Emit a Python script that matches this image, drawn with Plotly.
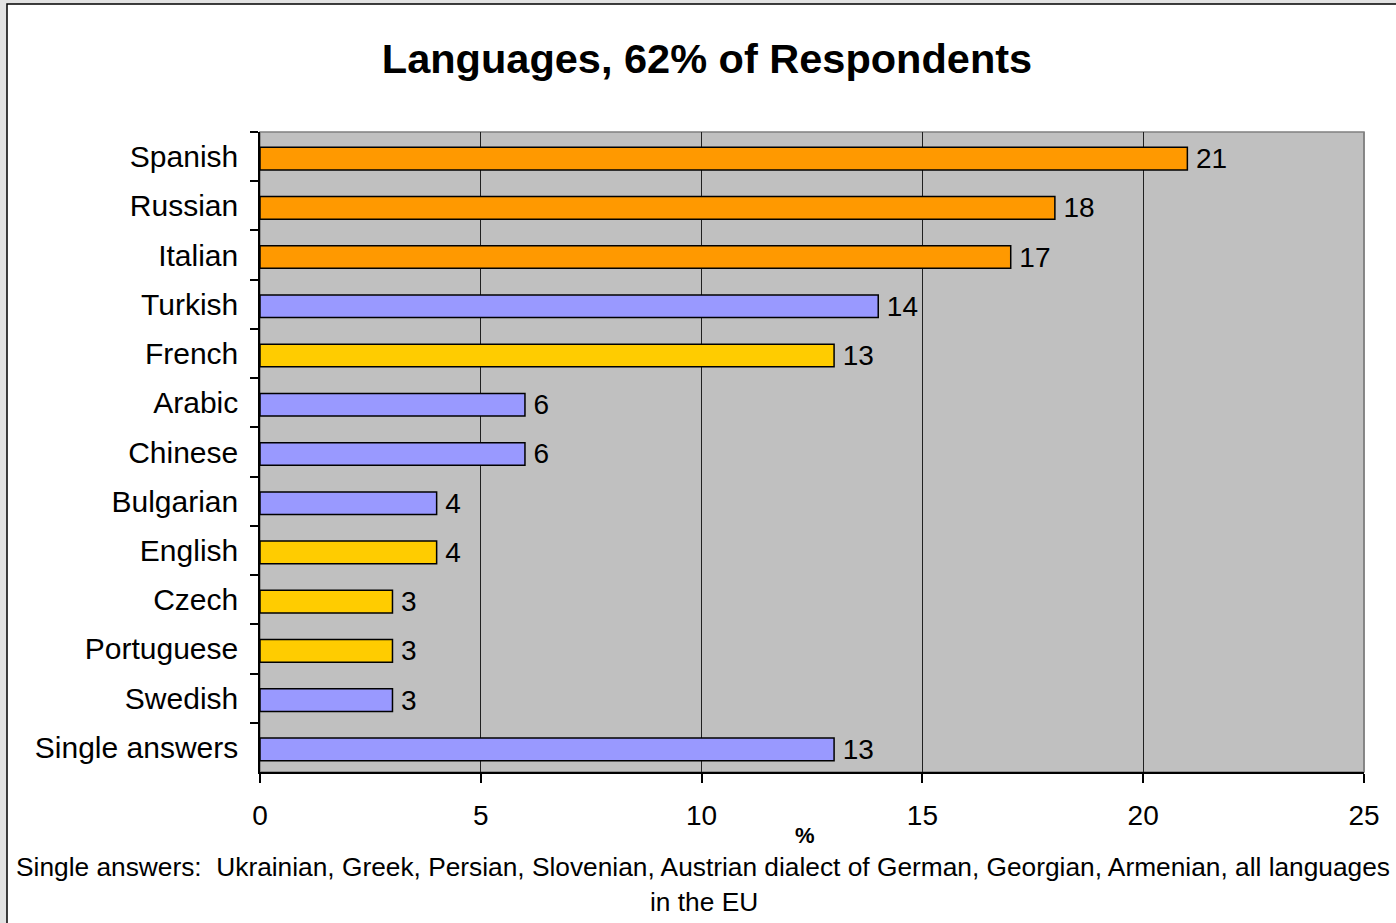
import plotly.graph_objects as go

categories = ["Spanish", "Russian", "Italian", "Turkish", "French", "Arabic", "Chinese",
              "Bulgarian", "English", "Czech", "Portuguese", "Swedish", "Single answers"]
values = [21, 18, 17, 14, 13, 6, 6, 4, 4, 3, 3, 3, 13]
groups = ["orange", "orange", "orange", "blue", "yellow", "blue", "blue",
          "blue", "yellow", "yellow", "yellow", "blue", "blue"]
palette = {"orange": "#FF9900", "blue": "#9999FF", "yellow": "#FFCC00"}
x_ticks = [0, 5, 10, 15, 20, 25]

W, H = 1396, 923
L, R, T, B = 260, 32, 132, 151
pw, ph = W - L - R, H - T - B

def px(xp):
    return (xp - L) / pw

def py(yp):
    return (H - B - yp) / ph

FONT = "Liberation Sans, Arial, sans-serif"

fig = go.Figure()
fig.add_trace(go.Bar(
    y=categories, x=values, orientation="h",
    marker=dict(color=[palette[g] for g in groups], line=dict(color="black", width=1.5)),
    width=0.46, offset=-0.19,
    text=["\u2009" + str(v) for v in values], textposition="outside",
    constraintext="none",
    textfont=dict(family=FONT, size=28, color="black"),
    cliponaxis=False,
    hoverinfo="skip",
))

shapes = [
    dict(type="rect", xref="paper", yref="paper", layer="below",
         x0=px(7), x1=px(1420), y0=py(4), y1=py(950),
         fillcolor="white", line=dict(color="black", width=1.5)),
    dict(type="rect", xref="paper", yref="paper", layer="below",
         x0=0, x1=1, y0=0, y1=1,
         fillcolor="#C0C0C0", line=dict(color="#808080", width=1.5)),
    dict(type="line", xref="paper", yref="paper", layer="above",
         x0=1, x1=1, y0=0, y1=1, line=dict(color="#808080", width=1.5)),
]

fig.update_layout(
    width=W, height=H,
    margin=dict(l=L, r=R, t=T, b=B),
    paper_bgcolor="#E2E2E2",
    plot_bgcolor="rgba(0,0,0,0)",
    showlegend=False,
    shapes=shapes,
    font=dict(family=FONT, color="black"),
    title=dict(text="<b>Languages, 62% of Respondents</b>", x=707 / W, xanchor="center",
               y=1 - 58 / H, yanchor="middle",
               font=dict(family=FONT, size=41.5, color="black")),
    xaxis=dict(range=[0, 25], tickvals=x_ticks, ticktext=[str(t) for t in x_ticks],
               showgrid=True, gridcolor="#202020", gridwidth=1, zeroline=False,
               showline=True, linecolor="black", linewidth=1.5,
               ticks="outside", ticklen=9, tickcolor="black", tickwidth=1.5,
               tickfont=dict(family=FONT, size=28, color="black"),
               ticklabelstandoff=9, fixedrange=True),
    yaxis=dict(categoryorder="array", categoryarray=categories, autorange="reversed",
               showgrid=False, zeroline=False,
               showline=True, linecolor="black", linewidth=1.5,
               ticks="outside", tickson="boundaries", ticklen=8, tickcolor="black", tickwidth=1.5,
               tickfont=dict(family=FONT, size=30, color="black"),
               ticklabelstandoff=14, fixedrange=True),
    bargap=0.54,
)

fig.add_annotation(text="<b>%</b>", xref="paper", yref="paper", x=px(805), y=py(835),
                   xanchor="center", yanchor="middle", showarrow=False,
                   font=dict(family=FONT, size=22, color="black"))
fig.add_annotation(text="Single answers:  Ukrainian, Greek, Persian, Slovenian, Austrian dialect of German, Georgian, Armenian, all languages",
                   xref="paper", yref="paper", x=px(703), y=py(867),
                   xanchor="center", yanchor="middle", showarrow=False,
                   font=dict(family=FONT, size=26.3, color="black"))
fig.add_annotation(text="in the EU",
                   xref="paper", yref="paper", x=px(704), y=py(902),
                   xanchor="center", yanchor="middle", showarrow=False,
                   font=dict(family=FONT, size=26.3, color="black"))

fig.write_html("out.html", config={"displayModeBar": False},
               post_script="document.body.style.margin='0';document.body.style.padding='0';document.body.style.overflow='hidden';")
